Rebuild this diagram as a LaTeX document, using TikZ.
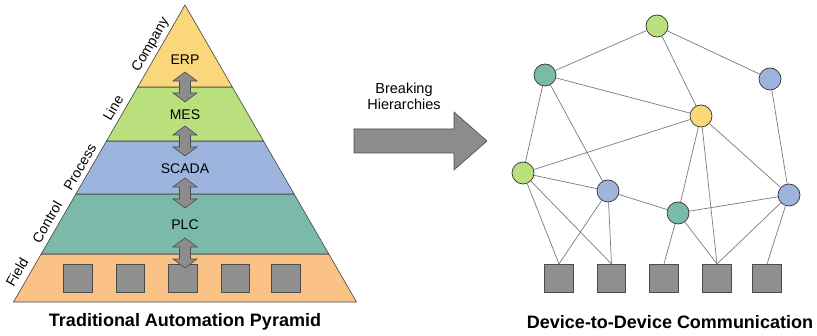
\documentclass[tikz,border=0pt]{standalone}
\usepackage{fontspec}
\setmainfont{Liberation Sans}
\definecolor{cyel}{HTML}{F9D77A}
\definecolor{cgrn}{HTML}{B9E07D}
\definecolor{cblu}{HTML}{9DB5DE}
\definecolor{ctea}{HTML}{7BBAA8}
\definecolor{corg}{HTML}{FBC285}
\definecolor{sqgray}{HTML}{8F8F8F}
\definecolor{arrgray}{HTML}{8C8C8C}
\definecolor{linkgray}{HTML}{7A7A7A}
\newcommand{\dblarrow}[1]{%
  \filldraw[dbl] (185,#1-15) -- (197,#1-6) -- (190.5,#1-6) -- (190.5,#1+6) -- (197,#1+6)
    -- (185,#1+15) -- (173,#1+6) -- (179.5,#1+6) -- (179.5,#1-6) -- (173,#1-6) -- cycle;}
\begin{document}
\begin{tikzpicture}[x=1pt,y=-1pt,
  band/.style={draw=black!75, line width=0.6pt, line join=round},
  lvl/.style={font=\fontsize{14}{16}\selectfont, inner sep=0pt},
  side/.style={font=\fontsize{14}{16}\selectfont, rotate=60, inner sep=0pt},
  ttl/.style={font=\fontsize{18}{20}\selectfont\bfseries, inner sep=0pt},
  dev/.style={draw=black!70, fill=sqgray, minimum size=28.5pt, inner sep=0pt, line width=0.6pt},
  nd/.style={circle, draw=black!80, line width=0.7pt, minimum size=22pt, inner sep=0pt},
  link/.style={draw=linkgray, line width=0.7pt},
  dbl/.style={draw=black!70, fill=arrgray, line width=0.6pt, line join=miter}
]
\useasboundingbox (0,0) rectangle (817,336);

% ---------- pyramid bands ----------
\filldraw[band, fill=corg] (41.2,254) -- (328.8,254) -- (356.5,302) -- (13.5,302) -- cycle;
\filldraw[band, fill=ctea] (75.9,194) -- (294.1,194) -- (328.8,254) -- (41.2,254) -- cycle;
\filldraw[band, fill=cblu] (106.5,141) -- (263.5,141) -- (294.1,194) -- (75.9,194) -- cycle;
\filldraw[band, fill=cgrn] (137.7,87) -- (232.3,87) -- (263.5,141) -- (106.5,141) -- cycle;
\filldraw[band, fill=cyel] (185,5) -- (232.3,87) -- (137.7,87) -- cycle;

% field devices in pyramid
\node[dev] (p1) at (78,278.5) {};
\node[dev] (p2) at (130.5,278.5) {};
\node[dev] (p3) at (183,278.5) {};
\node[dev] (p4) at (235.5,278.5) {};
\node[dev] (p5) at (286,278.5) {};

% layer labels
\node[lvl] (erp) at (185,60) {ERP};
\node[lvl] (mes) at (185,115) {MES};
\node[lvl] (scada) at (185,169) {SCADA};
\node[lvl] (plc) at (185,225) {PLC};

% double arrows
\dblarrow{87}
\dblarrow{141}
\dblarrow{193}
\dblarrow{253}

% side labels
\node[side] (company) at (151,45) {Company};
\node[side] (line) at (113,108) {Line};
\node[side] (process) at (80,167) {Process};
\node[side] (control) at (47,222) {Control};
\node[side] (field) at (17,272) {Field};

\node[ttl] (t1) at (185,322) {Traditional Automation Pyramid};

% ---------- big arrow ----------
\filldraw[dbl] (354,129) -- (454,129) -- (454,112) -- (487,141) -- (454,170) -- (454,153) -- (354,153) -- cycle;
\node[font=\fontsize{14.5}{17}\selectfont, align=center, inner sep=0pt] (brk) at (404,96)
  {Breaking\\[-1pt]Hierarchies};

% ---------- network ----------
\node[dev] (s1) at (559,278.5) {};
\node[dev] (s2) at (611.5,278.5) {};
\node[dev] (s3) at (664,278.5) {};
\node[dev] (s4) at (717,278.5) {};
\node[dev] (s5) at (767,278.5) {};

\node[nd, fill=cgrn] (n1) at (657,26) {};
\node[nd, fill=ctea] (n2) at (545,75) {};
\node[nd, fill=cblu] (n3) at (770,79) {};
\node[nd, fill=cyel] (n4) at (701,116) {};
\node[nd, fill=cgrn] (n5) at (523,173) {};
\node[nd, fill=cblu] (n6) at (608,191) {};
\node[nd, fill=ctea] (n7) at (678,213) {};
\node[nd, fill=cblu] (n8) at (789,195) {};

\path[link] (n1) -- (n2);
\path[link] (n1) -- (n3);
\path[link] (n1) -- (n4);
\path[link] (n2) -- (n4);
\path[link] (n2) -- (n5);
\path[link] (n2) -- (n6);
\path[link] (n4) -- (n5);
\path[link] (n4) -- (n7);
\path[link] (n4) -- (s4.north);
\path[link] (n4) -- (n8);
\path[link] (n3) -- (n8);
\path[link] (n5) -- (n6);
\path[link] (n5) -- (s1.north);
\path[link] (n5) -- (s2.north);
\path[link] (n6) -- (s1.north);
\path[link] (n6) -- (s2.north);
\path[link] (n6) -- (n7);
\path[link] (n7) -- (s3.north);
\path[link] (n7) -- (s4.north);
\path[link] (n7) -- (n8);
\path[link] (n8) -- (s4.north);
\path[link] (n8) -- (s5.north);

\node[ttl] (t2) at (670,322) {Device-to-Device Communication};
\end{tikzpicture}
\end{document}
